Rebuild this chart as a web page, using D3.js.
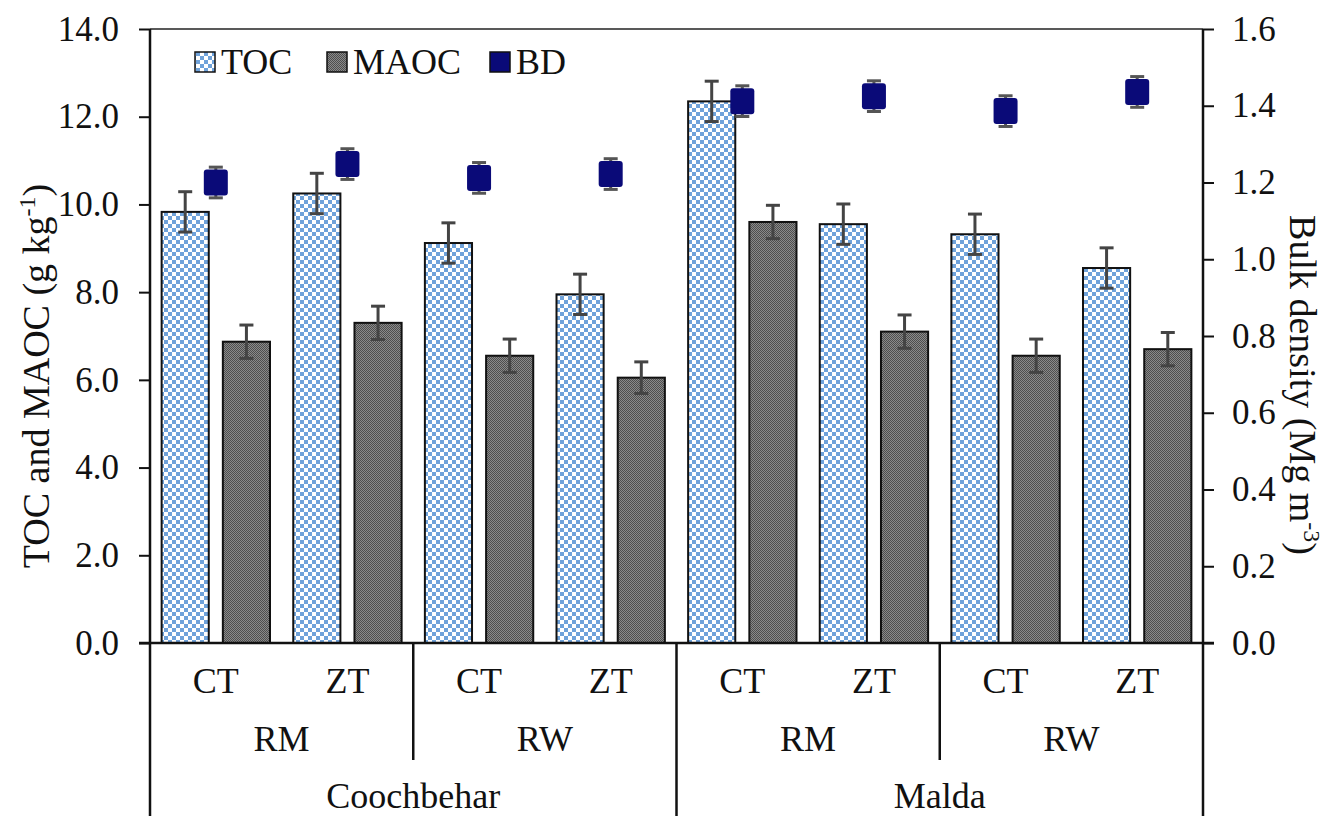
<!DOCTYPE html>
<html>
<head>
<meta charset="utf-8">
<script src="https://cdn.jsdelivr.net/npm/d3@7"></script>
<style>
  body { margin: 0; background: #fff; }
  svg text { font-family: "Liberation Serif", "Times New Roman", serif; fill: #111; }
</style>
</head>
<body>
<svg id="chart" width="1332" height="816"></svg>
<script>
// data
var sites = ["Coochbehar", "Malda"]
var systems = ["RM", "RW"]
var tillage = ["CT", "ZT"]
var tocVals = [9.83, 10.25, 9.12, 7.95, 12.35, 9.55, 9.32, 8.55]
var tocErr = [0.46, 0.46, 0.46, 0.46, 0.46, 0.46, 0.46, 0.46]
var maocVals = [6.87, 7.30, 6.55, 6.05, 9.60, 7.10, 6.55, 6.70]
var maocErr = [0.38, 0.38, 0.38, 0.36, 0.38, 0.38, 0.38, 0.38]
var bdVals = [1.20, 1.248, 1.212, 1.222, 1.412, 1.425, 1.386, 1.436]
var bdErr = [0.04, 0.04, 0.04, 0.04, 0.04, 0.04, 0.04, 0.04]
var leftTicks = [0, 2, 4, 6, 8, 10, 12, 14]
var rightTicks = [0, 0.2, 0.4, 0.6, 0.8, 1.0, 1.2, 1.4, 1.6]

var groups = []
sites.forEach(function (s) {
  systems.forEach(function (r) {
    tillage.forEach(function (t) {
      groups.push(s + "|" + r + "|" + t)
    })
  })
})

var svg = d3.select("#chart")
var plotLeft = 150, plotRight = 1203, plotTop = 29, plotBottom = 643

var defs = svg.append("defs")
var p1 = defs.append("pattern").attr("id", "tocPat").attr("patternUnits", "userSpaceOnUse")
  .attr("width", 8).attr("height", 8)
p1.append("rect").attr("width", 8).attr("height", 8).attr("fill", "#ffffff")
p1.append("rect").attr("width", 4).attr("height", 4).attr("fill", "#6fa2da")
p1.append("rect").attr("x", 4).attr("y", 4).attr("width", 4).attr("height", 4).attr("fill", "#6fa2da")

var p2 = defs.append("pattern").attr("id", "maocPat").attr("patternUnits", "userSpaceOnUse")
  .attr("width", 2).attr("height", 2)
p2.append("rect").attr("width", 2).attr("height", 2).attr("fill", "#8a8a8a")
p2.append("rect").attr("width", 1).attr("height", 1).attr("fill", "#4e4e4e")
p2.append("rect").attr("x", 1).attr("y", 1).attr("width", 1).attr("height", 1).attr("fill", "#4e4e4e")

var x = d3.scaleBand().domain(groups).range([plotLeft, plotRight])
var xi = d3.scaleBand().domain(["TOC", "MAOC"]).range([0, x.bandwidth()])
  .paddingInner(0.23).paddingOuter(0.19)
var y = d3.scaleLinear().domain([0, 14]).range([plotBottom, plotTop])
var y2 = d3.scaleLinear().domain([0, 1.6]).range([plotBottom, plotTop])

// top frame line
svg.append("line").attr("x1", plotLeft).attr("x2", plotRight).attr("y1", plotTop).attr("y2", plotTop)
  .attr("stroke", "#222").attr("stroke-width", 1.5)

// bars
function drawBars(vals, errs, key, fill) {
  var g = svg.append("g")
  g.selectAll("rect").data(vals).enter().append("rect")
    .attr("x", function (d, i) { return x(groups[i]) + xi(key) })
    .attr("y", function (d) { return y(d) })
    .attr("width", xi.bandwidth())
    .attr("height", function (d) { return y(0) - y(d) })
    .attr("fill", fill)
    .attr("stroke", "#111")
    .attr("stroke-width", 2)
  var e = svg.append("g").attr("stroke", "#444").attr("stroke-width", 3)
  vals.forEach(function (d, i) {
    var cx = x(groups[i]) + xi(key) + xi.bandwidth() / 2
    e.append("line").attr("x1", cx).attr("x2", cx).attr("y1", y(d + errs[i])).attr("y2", y(d - errs[i]))
    e.append("line").attr("x1", cx - 7).attr("x2", cx + 7).attr("y1", y(d + errs[i])).attr("y2", y(d + errs[i]))
    e.append("line").attr("x1", cx - 7).attr("x2", cx + 7).attr("y1", y(d - errs[i])).attr("y2", y(d - errs[i]))
  })
}
drawBars(tocVals, tocErr, "TOC", "url(#tocPat)")
drawBars(maocVals, maocErr, "MAOC", "url(#maocPat)")

// bulk density markers
var bd = svg.append("g")
bdVals.forEach(function (d, i) {
  var cx = x(groups[i]) + x.bandwidth() / 2
  bd.append("line").attr("x1", cx).attr("x2", cx).attr("y1", y2(d + bdErr[i])).attr("y2", y2(d - bdErr[i]))
    .attr("stroke", "#555").attr("stroke-width", 3)
  bd.append("line").attr("x1", cx - 7).attr("x2", cx + 7).attr("y1", y2(d + bdErr[i])).attr("y2", y2(d + bdErr[i]))
    .attr("stroke", "#555").attr("stroke-width", 3)
  bd.append("line").attr("x1", cx - 7).attr("x2", cx + 7).attr("y1", y2(d - bdErr[i])).attr("y2", y2(d - bdErr[i]))
    .attr("stroke", "#555").attr("stroke-width", 3)
  bd.append("rect").attr("x", cx - 12).attr("y", y2(d) - 13).attr("width", 24).attr("height", 26)
    .attr("rx", 3).attr("fill", "#0a0a78")
})

// left axis
var yAxis = d3.axisLeft(y).tickValues(leftTicks).tickFormat(d3.format(".1f")).tickSize(11).tickPadding(20)
var ga = svg.append("g").attr("transform", "translate(" + plotLeft + ",0)").call(yAxis)
ga.select(".domain").remove()
ga.selectAll(".tick line").attr("stroke", "#111").attr("stroke-width", 2)
ga.selectAll(".tick text").style("font-size", "35px").attr("fill", "#111")
  .style("font-family", "'Liberation Serif', serif")

// right axis
var y2Axis = d3.axisRight(y2).tickValues(rightTicks).tickFormat(d3.format(".1f")).tickSize(11).tickPadding(18)
var gb = svg.append("g").attr("transform", "translate(" + plotRight + ",0)").call(y2Axis)
gb.select(".domain").remove()
gb.selectAll(".tick line").attr("stroke", "#111").attr("stroke-width", 2)
gb.selectAll(".tick text").style("font-size", "35px").attr("fill", "#111")
  .style("font-family", "'Liberation Serif', serif")

// axis lines and category dividers
var lines = svg.append("g").attr("stroke", "#111").attr("stroke-width", 2.5)
lines.append("line").attr("x1", plotLeft).attr("x2", plotLeft).attr("y1", plotTop).attr("y2", 816)
lines.append("line").attr("x1", plotRight).attr("x2", plotRight).attr("y1", plotTop).attr("y2", 816)
lines.append("line").attr("x1", plotLeft - 11).attr("x2", plotRight + 11).attr("y1", plotBottom).attr("y2", plotBottom)
var siteW = (plotRight - plotLeft) / sites.length
var sysW = siteW / systems.length
sites.forEach(function (s, si) {
  if (si > 0) {
    lines.append("line").attr("x1", plotLeft + si * siteW).attr("x2", plotLeft + si * siteW)
      .attr("y1", plotBottom).attr("y2", 816)
  }
  lines.append("line").attr("x1", plotLeft + si * siteW + sysW).attr("x2", plotLeft + si * siteW + sysW)
    .attr("y1", plotBottom).attr("y2", 760)
})

// category labels
var lab = svg.append("g").style("font-size", "36px").attr("text-anchor", "middle")
groups.forEach(function (g) {
  lab.append("text").attr("x", x(g) + x.bandwidth() / 2).attr("y", 693).text(g.split("|")[2])
})
sites.forEach(function (s, si) {
  systems.forEach(function (r, ri) {
    lab.append("text").attr("x", plotLeft + si * siteW + ri * sysW + sysW / 2).attr("y", 751).text(r)
  })
  lab.append("text").attr("x", plotLeft + si * siteW + siteW / 2).attr("y", 808).text(s)
})

// axis titles
var t1 = svg.append("text").attr("transform", "translate(49,376) rotate(-90)")
  .attr("text-anchor", "middle").style("font-size", "38px")
t1.append("tspan").text("TOC and MAOC (g kg")
t1.append("tspan").text("-1").style("font-size", "24px").attr("dy", -14)
t1.append("tspan").text(")").attr("dy", 14)

var t2 = svg.append("text").attr("transform", "translate(1290,385) rotate(90)")
  .attr("text-anchor", "middle").style("font-size", "38px")
t2.append("tspan").text("Bulk density (Mg m")
t2.append("tspan").text("-3").style("font-size", "24px").attr("dy", -14)
t2.append("tspan").text(")").attr("dy", 14)

// legend
var legend = [
  { name: "TOC", fill: "url(#tocPat)", x: 195 },
  { name: "MAOC", fill: "url(#maocPat)", x: 327 },
  { name: "BD", fill: "#0a0a78", x: 490 }
]
var lg = svg.append("g")
legend.forEach(function (d) {
  lg.append("rect").attr("x", d.x).attr("y", 52).attr("width", 20).attr("height", 20)
    .attr("fill", d.fill).attr("stroke", "#111").attr("stroke-width", 1.5)
  lg.append("text").attr("x", d.x + 26).attr("y", 74).style("font-size", "36px").text(d.name)
})
</script>
</body>
</html>
